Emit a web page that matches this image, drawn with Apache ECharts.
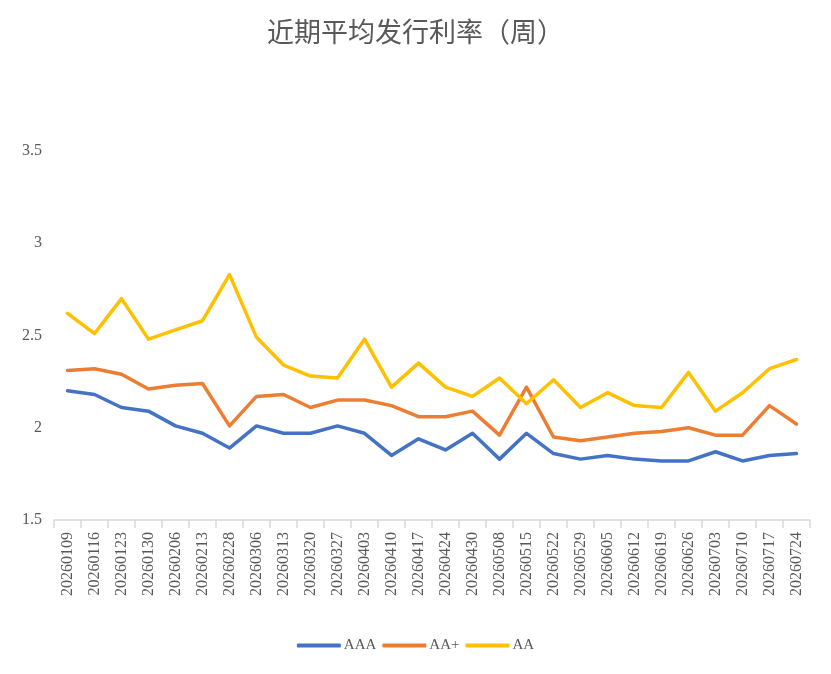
<!DOCTYPE html>
<html>
<head>
<meta charset="utf-8">
<script src="https://cdn.jsdelivr.net/npm/echarts@6/dist/echarts.min.js"></script>
<style>
	html, body { margin: 0; padding: 0; background: #fff; }
	#chart { width: 831px; height: 674px; }
</style>
</head>
<body>
<div id="chart"></div>
<script>
const weeks = [
	"20260109", "20260116", "20260123", "20260130", "20260206", "20260213", "20260228",
	"20260306", "20260313", "20260320", "20260327", "20260403", "20260410", "20260417",
	"20260424", "20260430", "20260508", "20260515", "20260522", "20260529", "20260605",
	"20260612", "20260619", "20260626", "20260703", "20260710", "20260717", "20260724"
];
const aaa = [
	2.20, 2.18, 2.11, 2.09, 2.01, 1.97, 1.89, 2.01, 1.97, 1.97, 2.01, 1.97, 1.85, 1.94,
	1.88, 1.97, 1.83, 1.97, 1.86, 1.83, 1.85, 1.83, 1.82, 1.82, 1.87, 1.82, 1.85, 1.86
];
const aaPlus = [
	2.31, 2.32, 2.29, 2.21, 2.23, 2.24, 2.01, 2.17, 2.18, 2.11, 2.15, 2.15, 2.12, 2.06,
	2.06, 2.09, 1.96, 2.22, 1.95, 1.93, 1.95, 1.97, 1.98, 2.00, 1.96, 1.96, 2.12, 2.02
];
const aa = [
	2.62, 2.51, 2.70, 2.48, 2.53, 2.58, 2.83, 2.49, 2.34, 2.28, 2.27, 2.48, 2.22, 2.35,
	2.22, 2.17, 2.27, 2.13, 2.26, 2.11, 2.19, 2.12, 2.11, 2.30, 2.09, 2.19, 2.32, 2.37
];
const yTicks = { min: 1.5, max: 3.5, step: 0.5 };

const textColor = "#595959";
const serif = "Liberation Serif";

function line( name, data, color ) {
	return {
		name,
		type: "line",
		data,
		symbol: "none",
		lineStyle: { width: 3.5, color, cap: "round", join: "round" },
		itemStyle: { color }
	};
}

const myChart = echarts.init( document.getElementById( "chart" ) );
myChart.setOption( {
	animation: false,
	title: {
		text: "近期平均发行利率（周）",
		left: "center",
		top: 13,
		textStyle: {
			fontFamily: "Noto Sans CJK SC",
			fontSize: 27,
			fontWeight: "normal",
			color: textColor
		}
	},
	legend: {
		bottom: 16,
		left: "center",
		icon: "roundRect",
		itemWidth: 44,
		itemHeight: 4,
		itemGap: 6,
		textStyle: {
			fontFamily: serif,
			fontSize: 15,
			color: textColor,
			padding: [ 0, 0, 0, -2 ]
		},
		data: [ "AAA", "AA+", "AA" ]
	},
	grid: {
		left: 54,
		right: 21,
		top: 151,
		bottom: 154
	},
	xAxis: {
		type: "category",
		data: weeks,
		boundaryGap: true,
		axisLine: { lineStyle: { color: "#d9d9d9", width: 1.5 } },
		axisTick: { show: true, length: 8, lineStyle: { color: "#d9d9d9", width: 1.5 } },
		axisLabel: {
			rotate: 90,
			interval: 0,
			margin: 12,
			fontFamily: serif,
			fontSize: 16,
			color: textColor
		}
	},
	yAxis: {
		type: "value",
		min: yTicks.min,
		max: yTicks.max,
		interval: yTicks.step,
		axisLine: { show: false },
		axisTick: { show: false },
		splitLine: { show: false },
		axisLabel: {
			margin: 12,
			fontFamily: serif,
			fontSize: 16,
			color: textColor
		}
	},
	series: [
		line( "AAA", aaa, "#4472C4" ),
		line( "AA+", aaPlus, "#ED7D31" ),
		line( "AA", aa, "#FFC000" )
	]
} );
</script>
</body>
</html>
